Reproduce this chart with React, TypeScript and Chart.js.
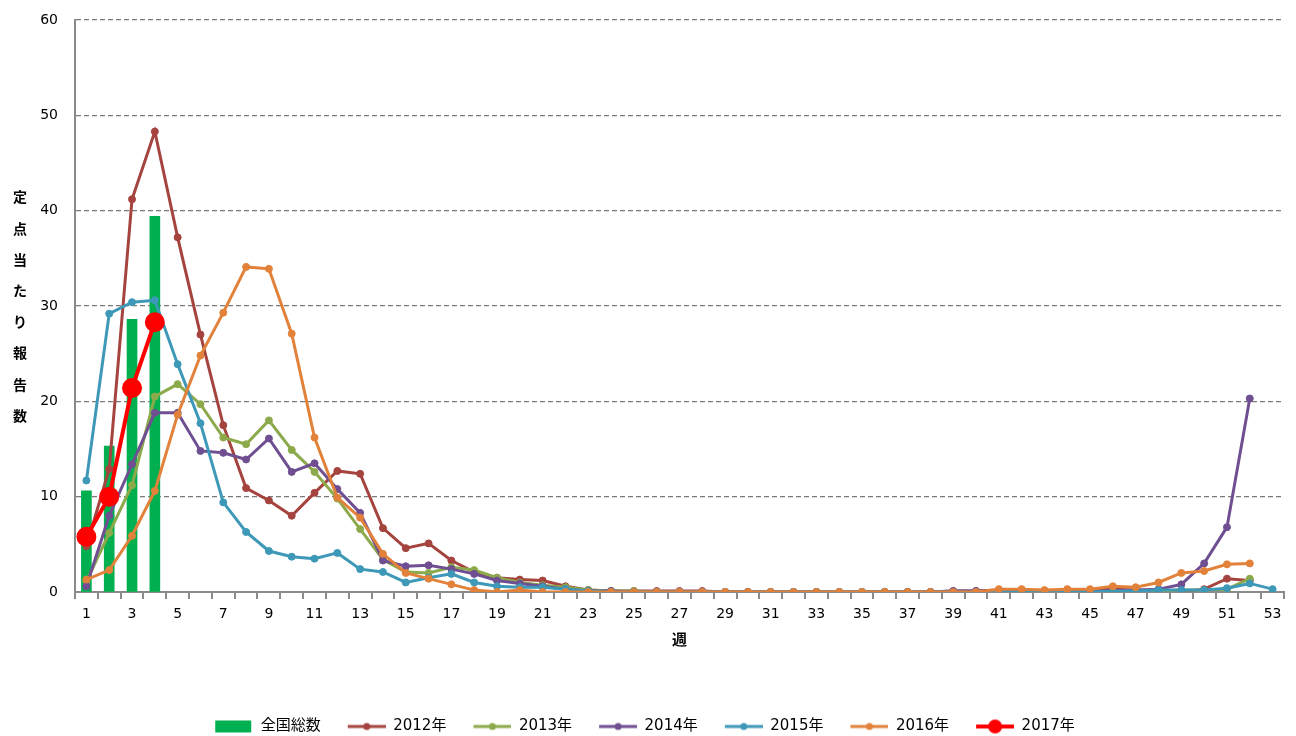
import React, { useEffect, useRef } from 'react';
import { Chart, registerables } from 'chart.js';

Chart.register(...registerables);

const weeks = ['1','2','3','4','5','6','7','8','9','10','11','12','13','14','15','16','17','18','19','20','21','22','23','24','25','26','27','28','29','30','31','32','33','34','35','36','37','38','39','40','41','42','43','44','45','46','47','48','49','50','51','52','53'];

const nationalTotal = [10.6, 15.3, 28.6, 39.4];

const y2012 = [4.8, 12.9, 41.2, 48.3, 37.2, 27.0, 17.5, 10.9, 9.6, 8.0, 10.4, 12.7, 12.4, 6.7, 4.6, 5.1, 3.3, 2.1, 1.5, 1.3, 1.2, 0.6, 0.2, 0.1, 0.1, 0.1, 0.1, 0.1, 0.0, 0.0, 0.0, 0.0, 0.0, 0.0, 0.0, 0.0, 0.0, 0.0, 0.1, 0.1, 0.2, 0.2, 0.1, 0.2, 0.2, 0.3, 0.2, 0.0, 0.0, 0.3, 1.4, 1.2];
const y2013 = [1.1, 6.2, 11.2, 20.5, 21.8, 19.7, 16.2, 15.5, 18.0, 14.9, 12.6, 9.8, 6.6, 3.4, 2.1, 2.0, 2.6, 2.3, 1.5, 1.0, 0.7, 0.5, 0.2, 0.1, 0.1, 0.0, 0.0, 0.0, 0.0, 0.0, 0.0, 0.0, 0.0, 0.0, 0.0, 0.0, 0.0, 0.0, 0.0, 0.0, 0.1, 0.1, 0.1, 0.1, 0.1, 0.0, 0.1, 0.1, 0.2, 0.2, 0.3, 1.4];
const y2014 = [0.6, 8.0, 13.4, 18.8, 18.8, 14.8, 14.6, 13.9, 16.1, 12.6, 13.5, 10.8, 8.3, 3.3, 2.7, 2.8, 2.4, 1.9, 1.2, 0.9, 0.6, 0.3, 0.1, 0.1, 0.0, 0.0, 0.0, 0.0, 0.0, 0.0, 0.0, 0.0, 0.0, 0.0, 0.0, 0.0, 0.0, 0.0, 0.1, 0.1, 0.1, 0.1, 0.1, 0.1, 0.1, 0.1, 0.2, 0.3, 0.8, 3.0, 6.8, 20.3];
const y2015 = [11.7, 29.2, 30.4, 30.6, 23.9, 17.7, 9.4, 6.3, 4.3, 3.7, 3.5, 4.1, 2.4, 2.1, 1.0, 1.5, 1.9, 1.0, 0.6, 0.5, 0.5, 0.3, 0.1, 0.0, 0.0, 0.0, 0.0, 0.0, 0.0, 0.0, 0.0, 0.0, 0.0, 0.0, 0.0, 0.0, 0.0, 0.0, 0.0, 0.0, 0.0, 0.0, 0.1, 0.0, 0.0, 0.1, 0.1, 0.2, 0.2, 0.2, 0.4, 0.9, 0.3];
const y2016 = [1.3, 2.3, 5.9, 10.6, 18.6, 24.8, 29.3, 34.1, 33.9, 27.1, 16.2, 9.9, 7.8, 4.0, 2.0, 1.4, 0.8, 0.2, 0.0, 0.2, 0.0, 0.0, 0.0, 0.0, 0.0, 0.0, 0.0, 0.0, 0.0, 0.0, 0.0, 0.0, 0.0, 0.0, 0.0, 0.0, 0.0, 0.0, 0.0, 0.0, 0.3, 0.3, 0.2, 0.3, 0.3, 0.6, 0.5, 1.0, 2.0, 2.2, 2.9, 3.0];
const y2017 = [5.8, 10.0, 21.4, 28.3];

const yTicks = [0, 10, 20, 30, 40, 50, 60];

const seriesNames = ['全国総数', '2012年', '2013年', '2014年', '2015年', '2016年', '2017年'];
const seriesColors = ['#00B050', '#A5433F', '#8CAA4B', '#6F4F91', '#3E98B8', '#E2823A', '#FF0000'];

const yTitleChars = ['定', '点', '当', 'た', 'り', '報', '告', '数'];

const FONT = "'DejaVu Sans', 'Noto Sans CJK JP', sans-serif";
const SHIFT = 16; // canvas is shifted left by this many px on the page

function makeIcon(kind: string, color: string): HTMLCanvasElement {
  const c = document.createElement('canvas');
  const margin = 21;
  c.width = margin + 38;
  c.height = 18;
  const ctx = c.getContext('2d')!;
  if (kind === 'bar') {
    ctx.fillStyle = color;
    ctx.fillRect(margin, 3, 36, 12);
  } else {
    const big = kind === 'big';
    ctx.strokeStyle = color;
    ctx.lineWidth = big ? 4 : 3;
    ctx.beginPath();
    ctx.moveTo(margin, 9);
    ctx.lineTo(margin + 38, 9);
    ctx.stroke();
    ctx.fillStyle = color;
    ctx.beginPath();
    ctx.arc(margin + 19, 9, big ? 7 : 3.5, 0, Math.PI * 2);
    ctx.fill();
  }
  return c;
}

const yTitlePlugin = {
  id: 'yTitleVertical',
  afterDraw(chart: any) {
    const ctx = chart.ctx;
    ctx.save();
    ctx.font = "bold 14px 'Noto Sans CJK JP', sans-serif";
    ctx.fillStyle = '#000';
    ctx.textAlign = 'center';
    ctx.textBaseline = 'middle';
    yTitleChars.forEach((ch, i) => {
      ctx.fillText(ch, 20 + SHIFT, 197 + i * 31.2);
    });
    ctx.restore();
  },
};

export default function App() {
  const ref = useRef<HTMLCanvasElement | null>(null);

  useEffect(() => {
    if (!ref.current) return;
    const lineSeries = [y2012, y2013, y2014, y2015, y2016];
    const icons = seriesNames.map((_, i) =>
      makeIcon(i === 0 ? 'bar' : i === 6 ? 'big' : 'line', seriesColors[i])
    );

    const datasets: any[] = [
      {
        type: 'bar',
        label: seriesNames[0],
        data: nationalTotal,
        backgroundColor: seriesColors[0],
        barThickness: 10,
        order: 10,
      },
      ...lineSeries.map((d, i) => ({
        type: 'line',
        label: seriesNames[i + 1],
        data: d,
        borderColor: seriesColors[i + 1],
        backgroundColor: seriesColors[i + 1],
        pointBackgroundColor: seriesColors[i + 1],
        pointBorderColor: seriesColors[i + 1],
        borderWidth: 3,
        pointRadius: 3.5,
        pointBorderWidth: 1,
        tension: 0,
        order: 6 - i,
      })),
      {
        type: 'line',
        label: seriesNames[6],
        data: y2017,
        borderColor: seriesColors[6],
        backgroundColor: seriesColors[6],
        pointBackgroundColor: seriesColors[6],
        pointBorderColor: seriesColors[6],
        borderWidth: 4,
        pointRadius: 8,
        tension: 0,
        order: 0,
      },
    ];

    const chart = new Chart(ref.current, {
      type: 'bar',
      data: { labels: weeks, datasets },
      plugins: [yTitlePlugin],
      options: {
        animation: false,
        responsive: false,
        maintainAspectRatio: false,
        layout: { padding: { left: 0, right: 11, top: 20, bottom: 0 } },
        font: { family: FONT },
        plugins: {
          tooltip: { enabled: false },
          legend: {
            position: 'bottom',
            labels: {
              usePointStyle: true,
              pointStyleWidth: 59,
              padding: 6,
              color: '#000',
              font: { family: FONT, size: 15 },
              generateLabels: () =>
                seriesNames.map((name, i) => ({
                  text: name,
                  pointStyle: icons[i],
                  fillStyle: seriesColors[i],
                  strokeStyle: seriesColors[i],
                  lineWidth: 0,
                  hidden: false,
                  datasetIndex: i,
                })),
            },
          },
        },
        scales: {
          x: {
            type: 'category',
            offset: true,
            afterFit: (scale: any) => {
              scale.height = 121;
            },
            grid: {
              offset: true,
              drawOnChartArea: false,
              drawTicks: true,
              tickLength: 7,
              color: '#8a8a8a',
              lineWidth: 2,
            },
            border: { display: true, color: '#8a8a8a', width: 2 },
            ticks: {
              autoSkip: false,
              maxRotation: 0,
              minRotation: 0,
              padding: 7,
              color: '#000',
              font: { family: FONT, size: 14 },
              callback: (_v: any, idx: number) => (idx % 2 === 0 ? weeks[idx] : ''),
            },
            title: {
              display: true,
              text: '週',
              color: '#000',
              font: { family: "'Noto Sans CJK JP', sans-serif", size: 15, weight: 'bold' },
              padding: { top: 4, bottom: 65 },
            },
          },
          y: {
            min: 0,
            max: 60,
            afterFit: (scale: any) => {
              scale.width = 75 + SHIFT;
            },
            afterBuildTicks: (scale: any) => {
              scale.ticks = yTicks.map((v) => ({ value: v }));
            },
            grid: {
              color: '#7a7a7a',
              lineWidth: 1.3,
              drawTicks: true,
              tickLength: 14,
              tickColor: 'rgba(0,0,0,0)',
            },
            border: { display: true, color: '#8a8a8a', width: 2, dash: [5, 3] },
            ticks: {
              padding: 3,
              color: '#000',
              font: { family: FONT, size: 14 },
            },
          },
        },
      } as any,
    });
    return () => chart.destroy();
  }, []);

  return (
    <div style={{ position: 'fixed', left: 0, top: 0, width: 1296, height: 736, overflow: 'hidden', background: '#fff' }}>
      <canvas
        ref={ref}
        width={1296 + SHIFT}
        height={744}
        style={{ position: 'absolute', left: -SHIFT, top: 0, width: 1296 + SHIFT, height: 744, display: 'block' }}
      />
    </div>
  );
}
